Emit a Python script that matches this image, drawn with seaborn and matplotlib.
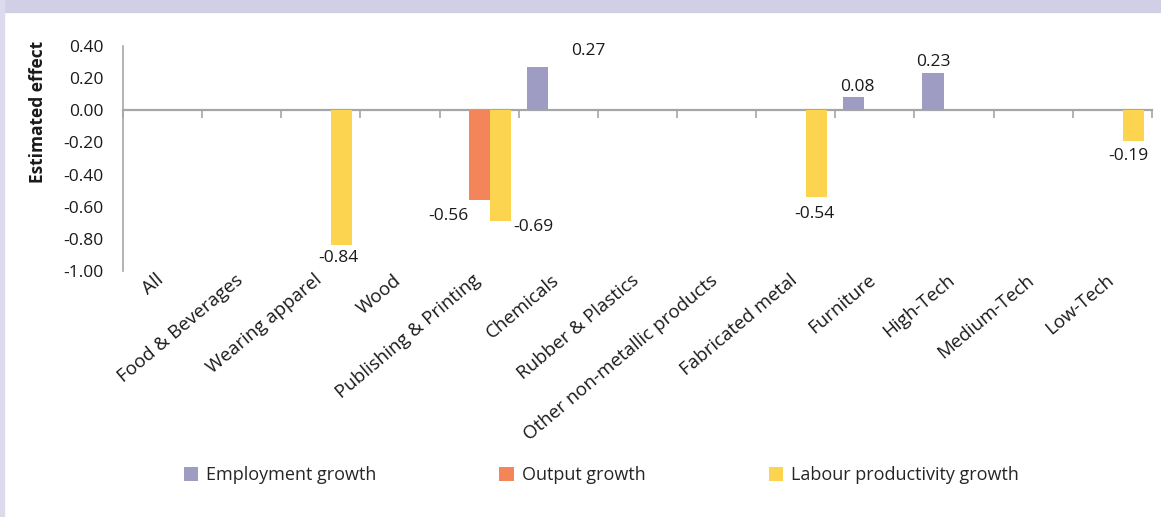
import numpy as np
import pandas as pd
import seaborn as sns
import matplotlib.pyplot as plt
import matplotlib.transforms as mtransforms
from matplotlib.patches import Rectangle

sectors = ["All", "Food & Beverages", "Wearing apparel", "Wood", "Publishing & Printing",
           "Chemicals", "Rubber & Plastics", "Other non-metallic products", "Fabricated metal",
           "Furniture", "High-Tech", "Medium-Tech", "Low-Tech"]
series = ["Employment growth", "Output growth", "Labour productivity growth"]

employment = [None, None, None, None, None, 0.27, None, None, None, 0.08, 0.23, None, None]
output = [None, None, None, None, -0.56, None, None, None, None, None, None, None, None]
labour_prod = [None, None, -0.84, None, -0.69, None, None, None, -0.54, None, None, None, -0.19]

y_ticks = [-1.0, -0.8, -0.6, -0.4, -0.2, 0.0, 0.2, 0.4]

colors = ["#9f9cc3", "#f4845a", "#fdd44f"]
axis_grey = "#a6a6a6"
txt = "#1a1a1a"

# where each value label sits, in pixels from the bar end (dx, dy down)
label_offsets = {
    ("Wearing apparel", "Labour productivity growth"): (-4, 13),
    ("Publishing & Printing", "Output growth"): (-31, 16),
    ("Publishing & Printing", "Labour productivity growth"): (33, 6),
    ("Chemicals", "Employment growth"): (51, -16),
    ("Fabricated metal", "Labour productivity growth"): (-2, 17),
    ("Furniture", "Employment growth"): (4, -10),
    ("High-Tech", "Employment growth"): (0, -11),
    ("Low-Tech", "Labour productivity growth"): (-5, 15),
}

rows = []
for name, vals in zip(series, [employment, output, labour_prod]):
    for sec, v in zip(sectors, vals):
        rows.append({"Sector": sec, "Series": name, "Effect": v})
df = pd.DataFrame(rows).dropna()

sns.set_style("white")
plt.rcParams["font.family"] = ["Open Sans", "DejaVu Sans"]

fig = plt.figure(figsize=(11.61, 5.17), dpi=100)
ax = fig.add_axes([0.1059, 0.4758, 0.8863, 0.4352])

sns.barplot(data=df, x="Sector", y="Effect", hue="Series", order=sectors,
            hue_order=series, palette=colors, width=0.8, errorbar=None,
            saturation=1, linewidth=0, ax=ax, legend=True)

ax.set_ylim(-1.0, 0.4)
ax.set_xlim(-0.5, len(sectors) - 0.5)
ax.set_yticks(y_ticks)
ax.set_yticklabels([f"{t:.2f}" for t in y_ticks])
ax.tick_params(axis="y", direction="inout", length=12, width=1.2, color=axis_grey,
               labelsize=12.5, labelcolor=txt, pad=8)
ax.tick_params(axis="x", length=0, labelsize=13.5, labelcolor=txt, pad=0)
shift = mtransforms.ScaledTranslation(-7 / 100, 0, fig.dpi_scale_trans)
for lab in ax.get_xticklabels():
    lab.set_rotation(40)
    lab.set_ha("right")
    lab.set_rotation_mode("anchor")
    lab.set_transform(lab.get_transform() + shift)

for s in ["top", "right", "bottom"]:
    ax.spines[s].set_visible(False)
ax.spines["left"].set_color(axis_grey)
ax.spines["left"].set_linewidth(1.2)

ax.set_xlabel("")
ax.set_ylabel("Estimated effect", fontsize=12.5, fontweight="bold", color=txt)
ax.yaxis.set_label_coords(-0.074, 0.707)

# zero line with category boundary ticks
sec = ax.secondary_xaxis(0, transform=ax.transData)
sec.set_xticks(np.arange(-0.5, len(sectors), 1.0))
sec.tick_params(direction="out", length=6, width=1.2, color=axis_grey, labelbottom=False)
sec.spines["bottom"].set_color(axis_grey)
sec.spines["bottom"].set_linewidth(1.6)

# value labels
px = 0.72
for name, cont in zip(series, ax.containers):
    for bar in cont:
        h = bar.get_height()
        if np.isnan(h):
            continue
        xc = bar.get_x() + bar.get_width() / 2
        sec_name = sectors[int(round(xc))]
        dx, dy = label_offsets.get((sec_name, name), (0, -10 if h > 0 else 10))
        ax.annotate(f"{h:.2f}", xy=(xc, h), xytext=(dx * px, -dy * px),
                    textcoords="offset points", ha="center", va="center",
                    fontsize=12.5, color=txt)

handles, labels = ax.get_legend_handles_labels()
ax.get_legend().remove()
fig.legend(handles, labels, loc="center", bbox_to_anchor=(0.518, 0.081), ncol=3,
           frameon=False, fontsize=13, handlelength=0.8, handleheight=0.8,
           handletextpad=0.45, columnspacing=6.8)

# framing band of the original box
fig.add_artist(Rectangle((0, 1 - 12 / 517), 1, 12 / 517, transform=fig.transFigure,
                         color="#d0cfe6", zorder=0))
fig.add_artist(Rectangle((0, 0), 4 / 1161, 1, transform=fig.transFigure,
                         color="#dcdbee", zorder=0))

fig.savefig("out.png", dpi=100)
